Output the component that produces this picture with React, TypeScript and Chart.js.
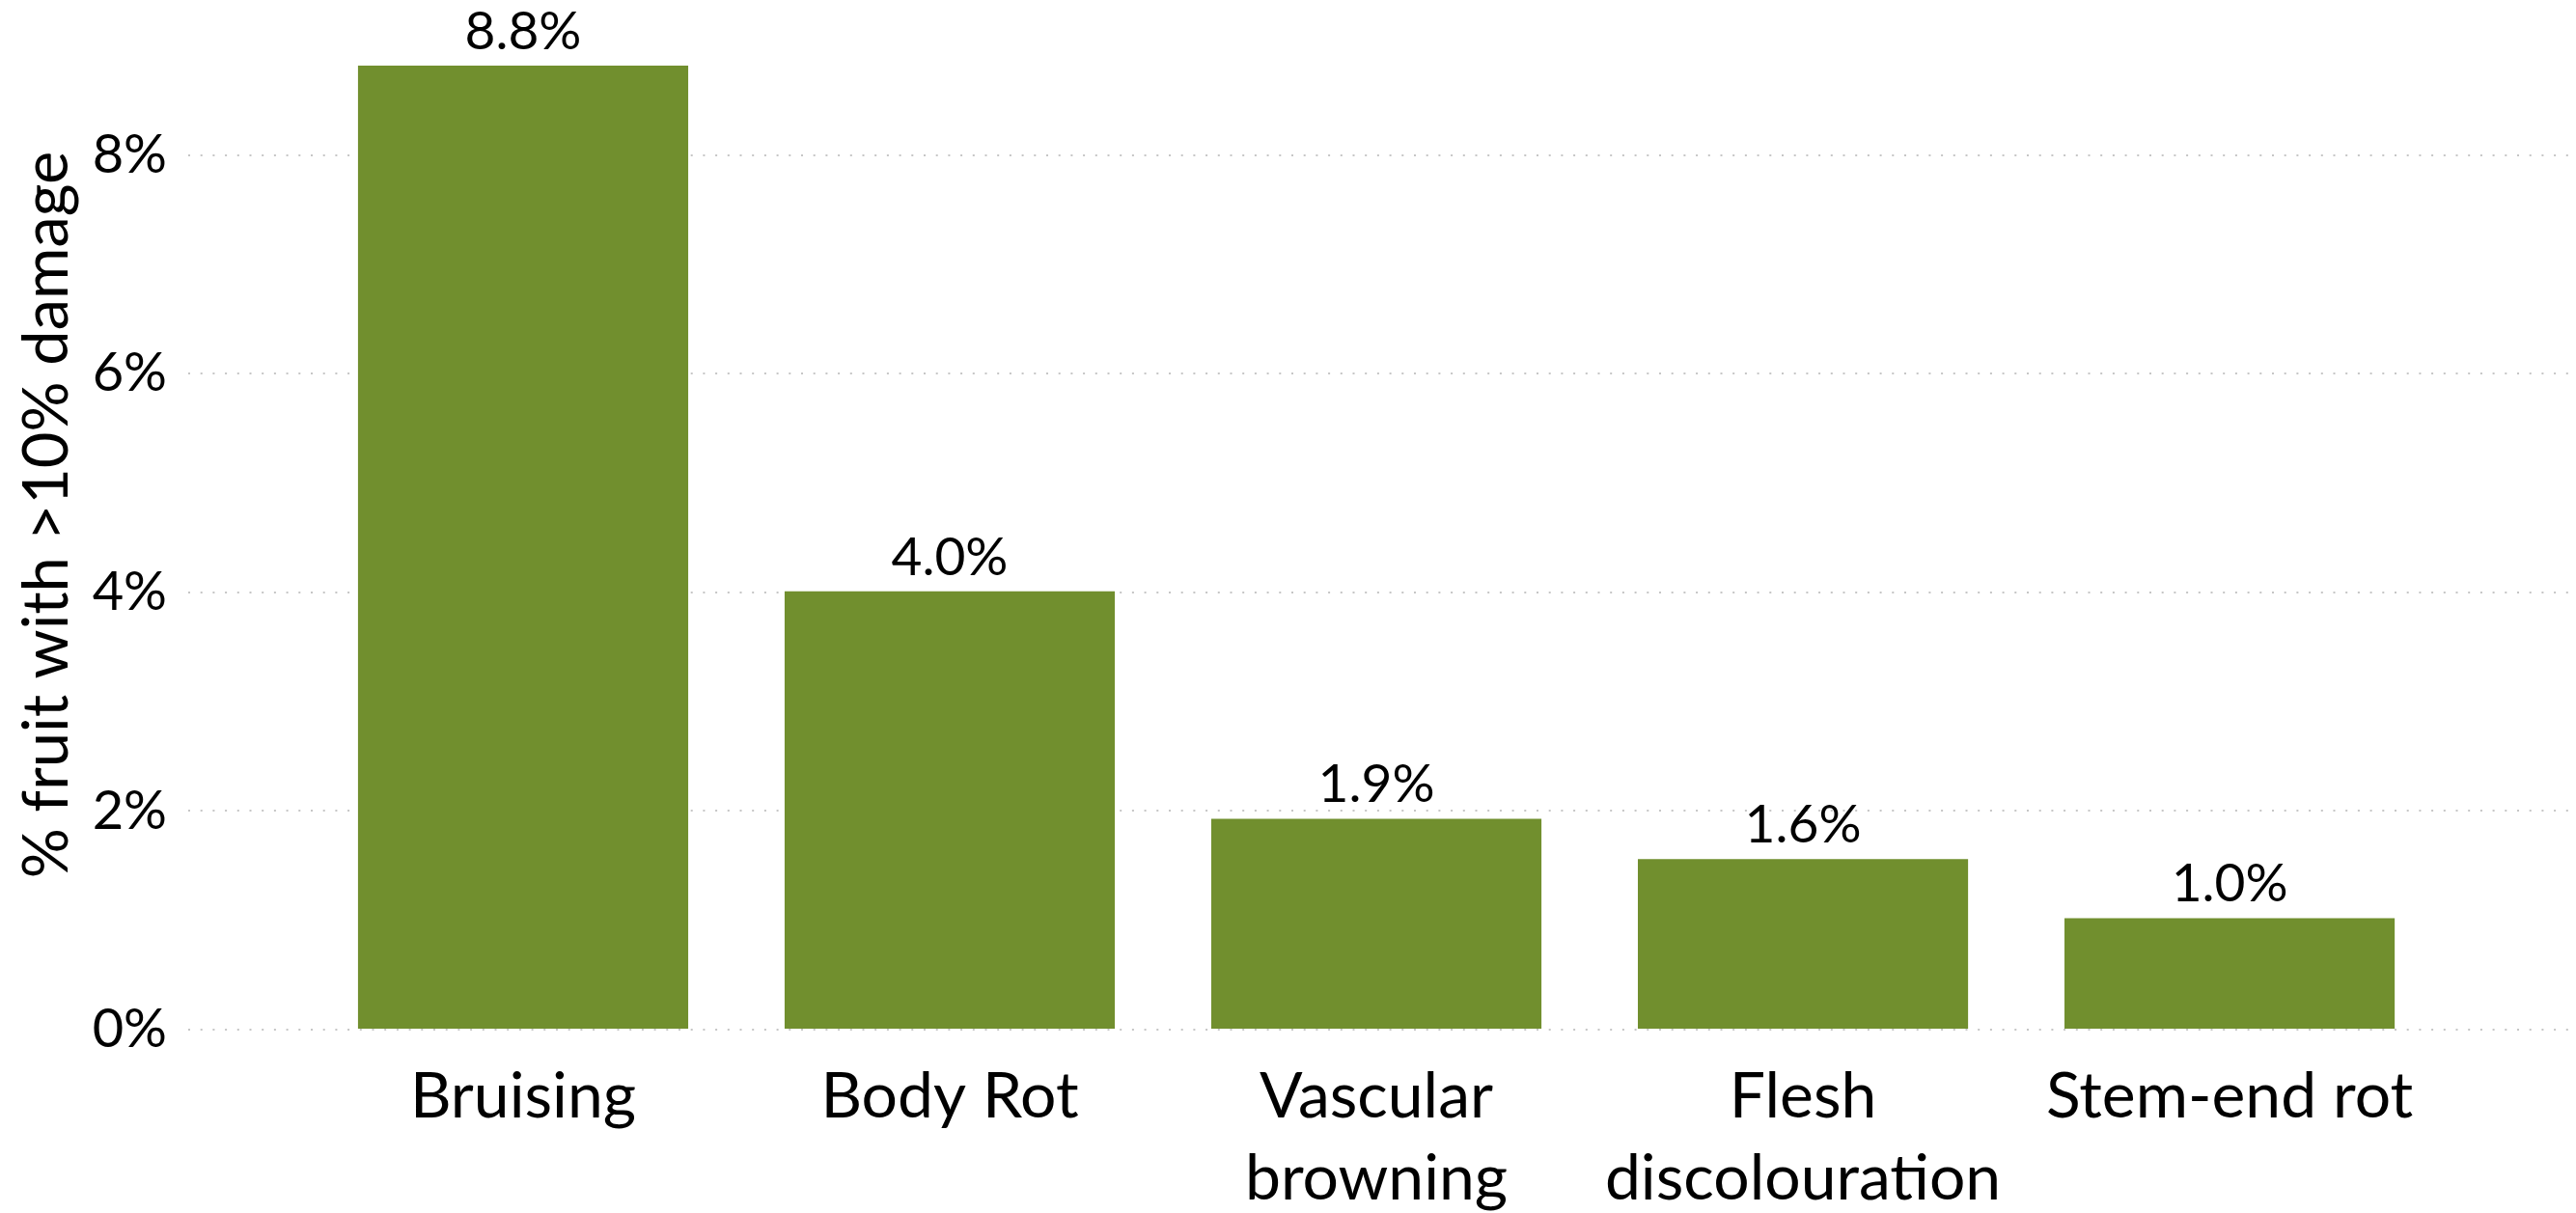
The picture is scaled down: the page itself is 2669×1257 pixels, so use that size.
import React, { useEffect, useRef } from 'react';
import { Chart, registerables } from 'chart.js';

Chart.register(...registerables);

// ---- data ----
const categories: string[][] = [
  ['Bruising'],
  ['Body Rot'],
  ['Vascular', 'browning'],
  ['Flesh', 'discolouration'],
  ['Stem-end rot'],
];
const values: number[] = [8.82, 4.01, 1.93, 1.56, 1.02];
const yTickValues: number[] = [0, 2, 4, 6, 8];
const yAxisTitle = '% fruit with >10% damage';

const W = 2669;
const H = 1257;
const FONT = 'Lato, "Open Sans", sans-serif';
const BAR_COLOR = '#718f2e';

export default function App() {
  const ref = useRef<HTMLCanvasElement>(null);

  useEffect(() => {
    document.body.style.margin = '0';
    const canvas = ref.current!;
    const valueLabels = {
      id: 'valueLabels',
      afterDatasetsDraw(chart: any) {
        const c = chart.ctx;
        const meta = chart.getDatasetMeta(0);
        c.save();
        c.font = `55px ${FONT}`;
        c.fillStyle = '#000';
        c.textAlign = 'center';
        c.textBaseline = 'alphabetic';
        meta.data.forEach((el: any, i: number) => {
          c.fillText(values[i].toFixed(1) + '%', el.x, el.y - 17);
        });
        c.restore();
      },
    };

    const chart = new Chart(canvas, {
      type: 'bar',
      data: {
        datasets: [
          {
            data: values.map((v, i) => ({ x: i, y: v })),
            backgroundColor: BAR_COLOR,
            barPercentage: 0.774,
            categoryPercentage: 1,
          } as any,
        ],
      },
      options: {
        animation: false,
        responsive: false,
        maintainAspectRatio: false,
        layout: { padding: 0 },
        plugins: {
          legend: { display: false },
          tooltip: { enabled: false },
        },
        scales: {
          x: {
            type: 'linear',
            offset: false,
            min: -0.785,
            max: 4.812,
            grid: { display: false },
            border: { display: false },
            afterBuildTicks: (s: any) => {
              s.ticks = categories.map((_, i) => ({ value: i }));
            },
            afterFit: (s: any) => {
              s.height = 190;
              s.paddingLeft = 0;
              s.paddingRight = 0;
            },
            ticks: {
              autoSkip: false,
              maxRotation: 0,
              minRotation: 0,
              padding: 19,
              color: '#000',
              font: { family: FONT, size: 66, lineHeight: 1.29 },
              callback: (v: any) => categories[Number(v)] ?? '',
            },
          },
          y: {
            min: 0,
            max: 9.42,
            afterBuildTicks: (s: any) => {
              s.ticks = yTickValues.map((v) => ({ value: v }));
            },
            afterFit: (s: any) => {
              s.width = 195;
              s.paddingTop = 0;
              s.paddingBottom = 0;
            },
            grid: { color: '#c6c6c6', lineWidth: 2, drawTicks: false },
            border: { display: false, dash: [2, 10.7] },
            ticks: {
              padding: 22,
              color: '#000',
              font: { family: FONT, size: 56 },
              callback: (v: any) => v + '%',
            },
            title: {
              display: true,
              text: yAxisTitle,
              color: '#000',
              font: { family: FONT, size: 65 },
              padding: { top: 10, bottom: 0 },
            },
          },
        },
      } as any,
      plugins: [valueLabels],
    });
    return () => chart.destroy();
  }, []);

  return (
    <div style={{ width: W, height: H }}>
      <canvas ref={ref} width={W} height={H} style={{ display: 'block', width: W, height: H }} />
    </div>
  );
}
